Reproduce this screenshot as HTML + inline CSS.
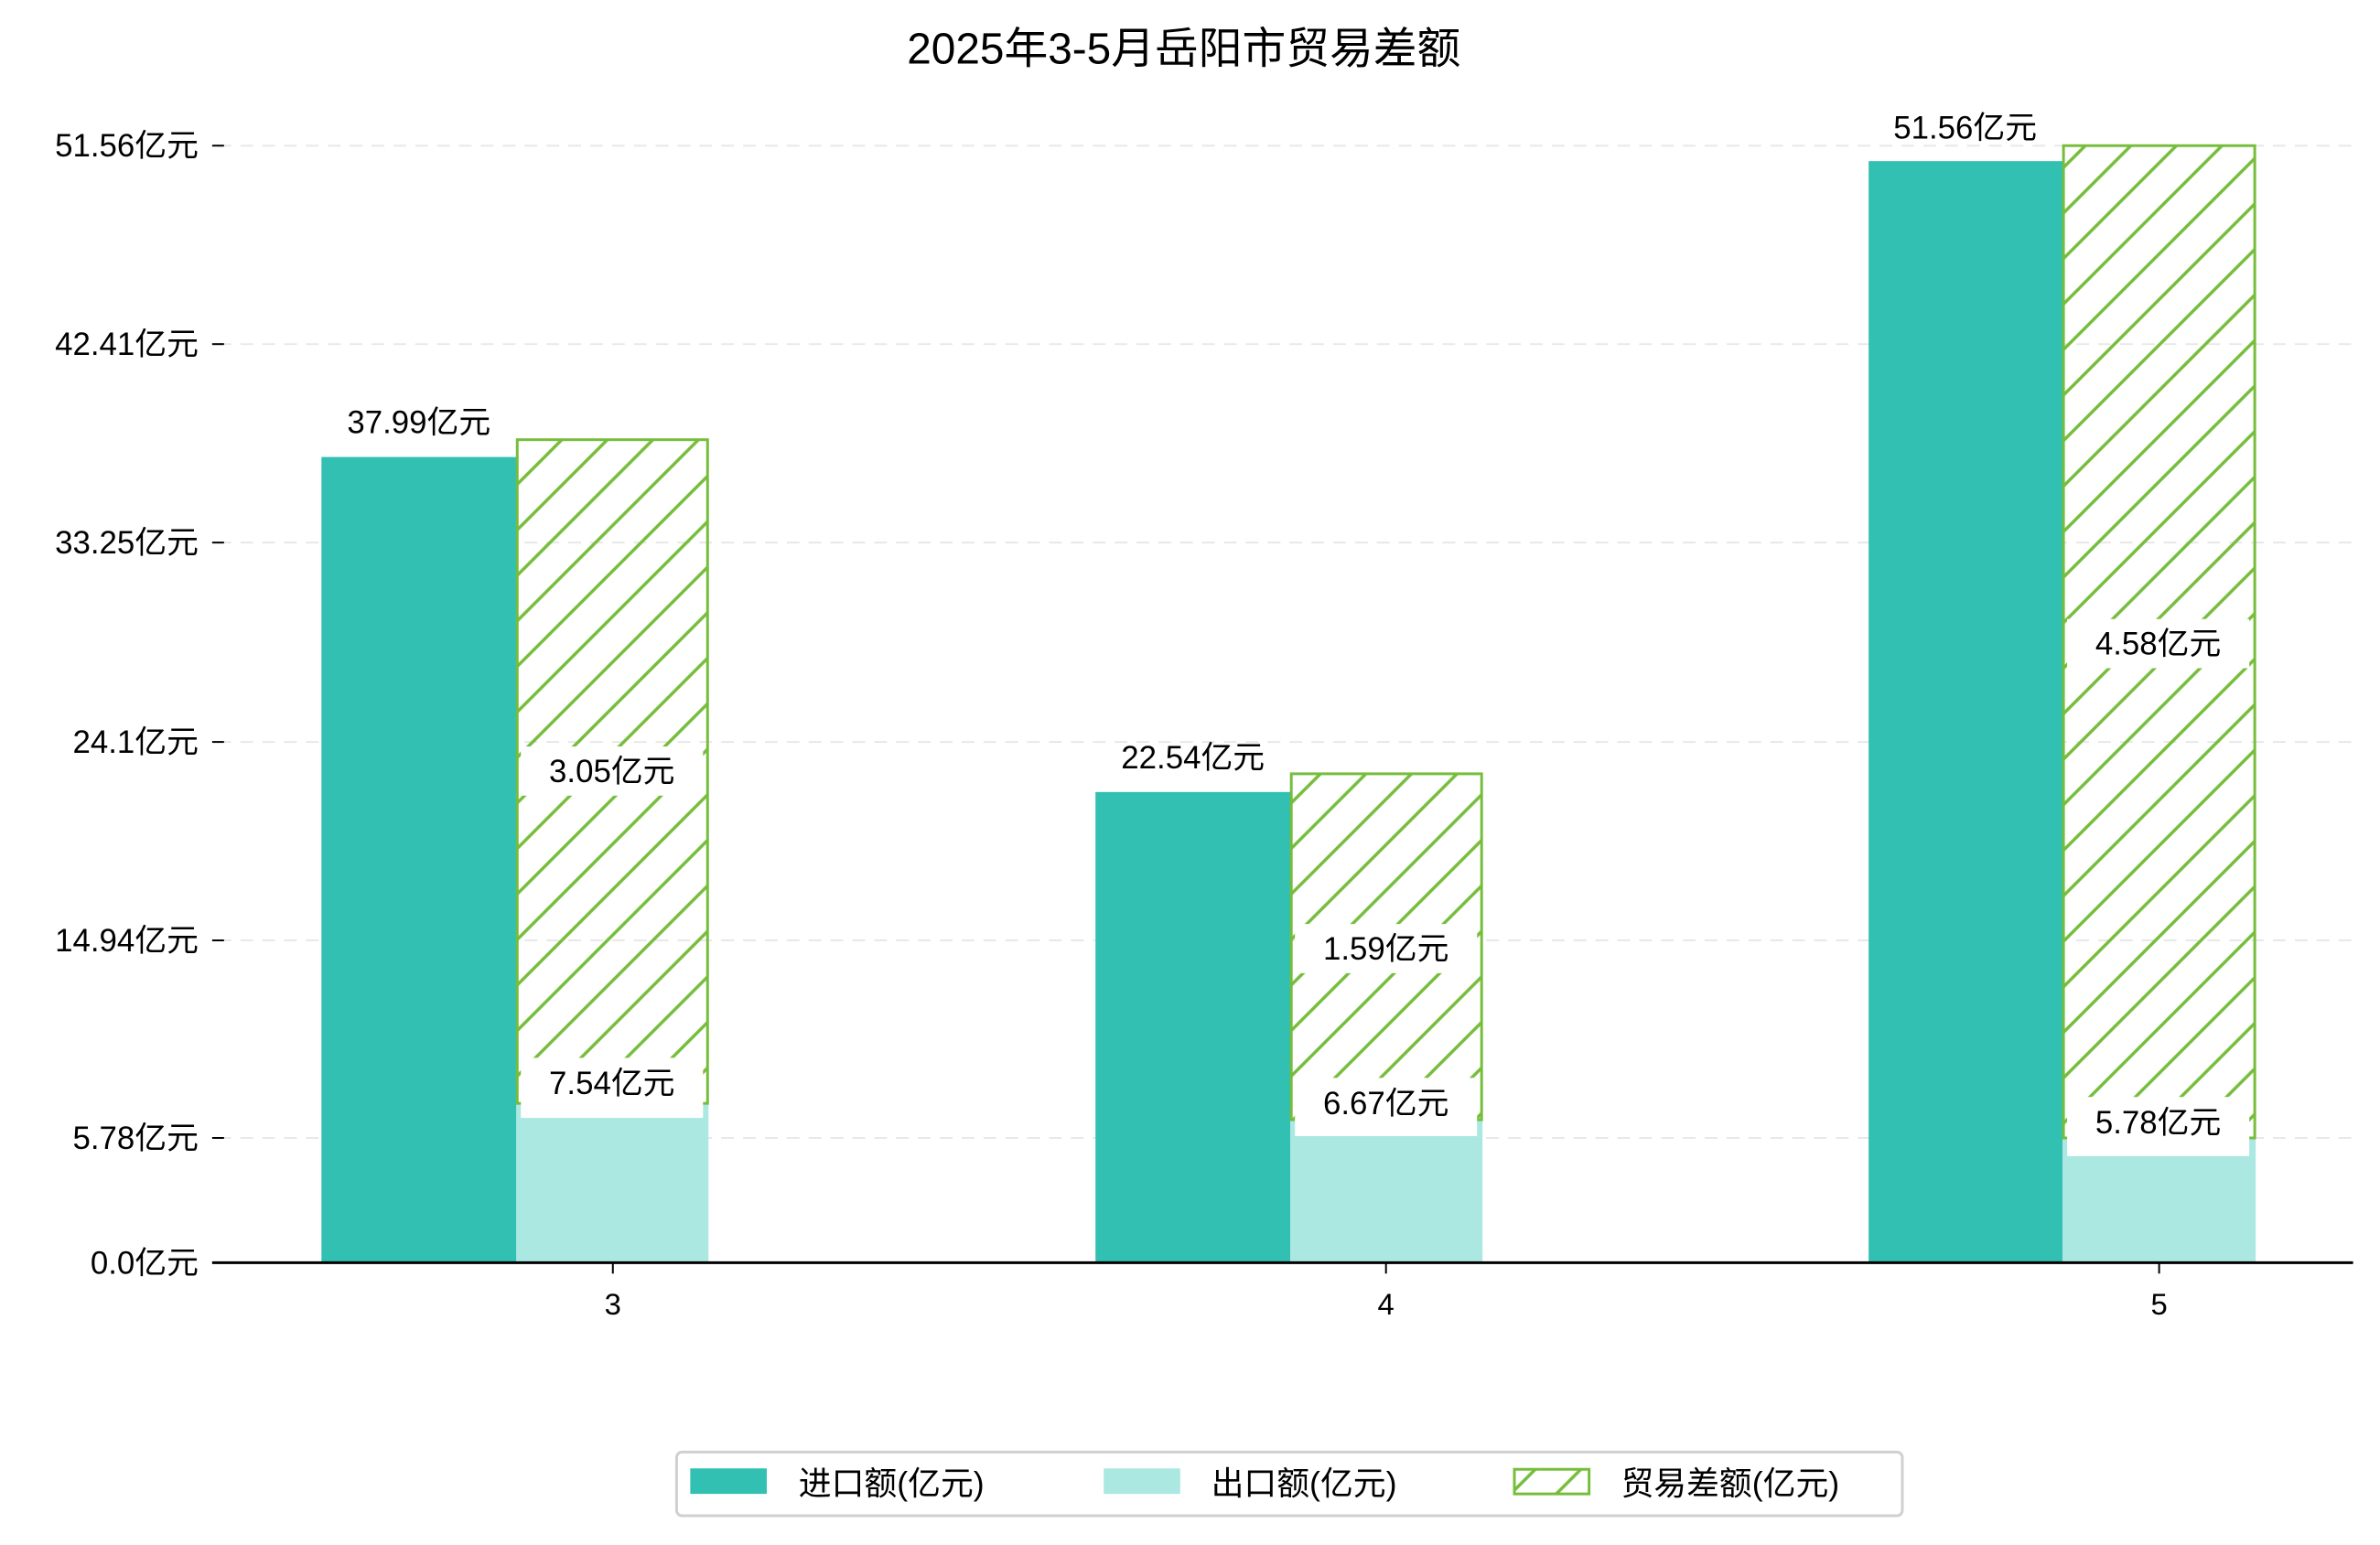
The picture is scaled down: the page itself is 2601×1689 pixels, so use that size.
<!DOCTYPE html>
<html><head><meta charset="utf-8"><style>
html,body{margin:0;padding:0;background:#fff}
svg{display:block}
text{font-family:"Liberation Sans","Noto Sans CJK SC",sans-serif;fill:#000}
</style></head><body>
<svg width="2601" height="1689" viewBox="0 0 2601 1689" xmlns="http://www.w3.org/2000/svg">
<defs>
<pattern id="h" patternUnits="userSpaceOnUse" width="50" height="50">
<path d="M-10,10 L10,-10 M0,50 L50,0 M40,60 L60,40" stroke="#76bd3c" stroke-width="3.5"/>
</pattern>
</defs>
<g transform="scale(0.9952)">
<text x="1300" y="70" font-size="48" text-anchor="middle">2025年3-5月岳阳市贸易差额</text>
<g stroke="#e8e8e8" stroke-width="2" stroke-dasharray="14,10">
<line x1="240" y1="160" x2="2584" y2="160"/>
<line x1="240" y1="378" x2="2584" y2="378"/>
<line x1="240" y1="596" x2="2584" y2="596"/>
<line x1="240" y1="815" x2="2584" y2="815"/>
<line x1="240" y1="1033" x2="2584" y2="1033"/>
<line x1="240" y1="1250" x2="2584" y2="1250"/>
</g>
<g stroke="#000" stroke-width="2">
<line x1="233" y1="160" x2="246" y2="160"/>
<line x1="233" y1="378" x2="246" y2="378"/>
<line x1="233" y1="596" x2="246" y2="596"/>
<line x1="233" y1="815" x2="246" y2="815"/>
<line x1="233" y1="1033" x2="246" y2="1033"/>
<line x1="233" y1="1250" x2="246" y2="1250"/>
<line x1="233" y1="1387" x2="246" y2="1387"/>
</g>
<g font-size="35" text-anchor="end">
<text x="218" y="172">51.56亿元</text>
<text x="218" y="390">42.41亿元</text>
<text x="218" y="608">33.25亿元</text>
<text x="218" y="827">24.1亿元</text>
<text x="218" y="1045">14.94亿元</text>
<text x="218" y="1262">5.78亿元</text>
<text x="218" y="1399">0.0亿元</text>
</g>
<g>
<rect x="353" y="502" width="214" height="885" fill="#31c0b2"/>
<rect x="567" y="1212" width="211" height="175" fill="#abe8e2"/>
<rect x="568" y="483" width="209" height="729" fill="url(#h)" stroke="#76bd3c" stroke-width="3"/>
<rect x="1203" y="870" width="214" height="517" fill="#31c0b2"/>
<rect x="1417" y="1230" width="211" height="157" fill="#abe8e2"/>
<rect x="1418" y="850" width="209" height="380" fill="url(#h)" stroke="#76bd3c" stroke-width="3"/>
<rect x="2052" y="177" width="213" height="1210" fill="#31c0b2"/>
<rect x="2265" y="1250" width="212" height="137" fill="#abe8e2"/>
<rect x="2266" y="160" width="210" height="1090" fill="url(#h)" stroke="#76bd3c" stroke-width="3"/>
</g>
<g fill="#fff">
<rect x="572" y="820" width="200" height="54"/>
<rect x="572" y="1162" width="200" height="66"/>
<rect x="1422" y="1015" width="200" height="54"/>
<rect x="1422" y="1184" width="200" height="64"/>
<rect x="2270" y="680" width="200" height="54"/>
<rect x="2270" y="1205" width="200" height="65"/>
</g>
<g font-size="35" text-anchor="middle">
<text x="460" y="476">37.99亿元</text>
<text x="1310" y="844">22.54亿元</text>
<text x="2158" y="152">51.56亿元</text>
<text x="672" y="859">3.05亿元</text>
<text x="1522" y="1054">1.59亿元</text>
<text x="2370" y="719">4.58亿元</text>
<text x="672" y="1202">7.54亿元</text>
<text x="1522" y="1224">6.67亿元</text>
<text x="2370" y="1245">5.78亿元</text>
</g>
<line x1="233" y1="1387" x2="2584" y2="1387" stroke="#000" stroke-width="3"/>
<g stroke="#000" stroke-width="2">
<line x1="673" y1="1387" x2="673" y2="1399"/>
<line x1="1522" y1="1387" x2="1522" y2="1399"/>
<line x1="2371" y1="1387" x2="2371" y2="1399"/>
</g>
<g font-size="33" text-anchor="middle">
<text x="673" y="1444">3</text>
<text x="1522" y="1444">4</text>
<text x="2371" y="1444">5</text>
</g>
<rect x="743" y="1595" width="1346" height="70" rx="6" fill="#fff" stroke="#d0d0d0" stroke-width="3"/>
<rect x="758" y="1613" width="84" height="28" fill="#31c0b2"/>
<rect x="1212" y="1613" width="84" height="28" fill="#abe8e2"/>
<rect x="1663" y="1614" width="82" height="27" fill="url(#h)" stroke="#76bd3c" stroke-width="3"/>
<g font-size="36">
<text x="877" y="1642">进口额(亿元)</text>
<text x="1330" y="1642">出口额(亿元)</text>
<text x="1780" y="1642">贸易差额(亿元)</text>
</g>
</g>
</svg>
</body></html>
